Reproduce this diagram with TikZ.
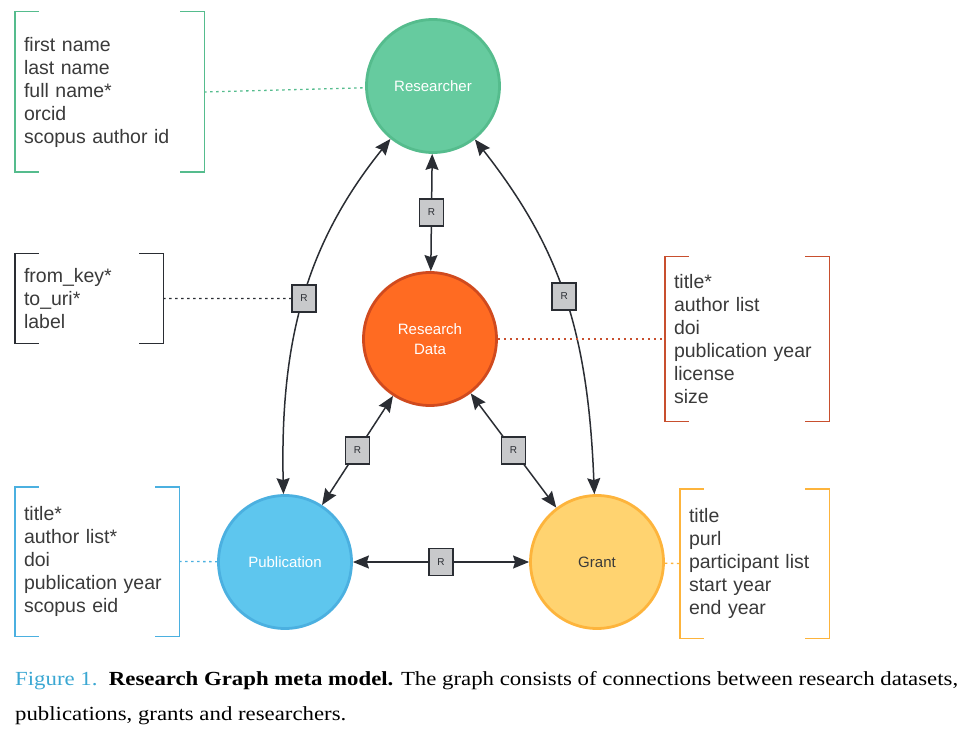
\documentclass[tikz,border=0pt]{standalone}
\usepackage{fontspec}
\setmainfont{Liberation Serif}
\setsansfont{Liberation Sans}
\usetikzlibrary{arrows.meta}
\definecolor{resfill}{HTML}{66CB9F}
\definecolor{resline}{HTML}{55BC8D}
\definecolor{datafill}{HTML}{FF6B22}
\definecolor{dataline}{HTML}{D04A1E}
\definecolor{databrk}{HTML}{C84F2E}
\definecolor{pubfill}{HTML}{5EC6EE}
\definecolor{publine}{HTML}{4BB0E0}
\definecolor{grantfill}{HTML}{FFD370}
\definecolor{grantline}{HTML}{FDB43C}
\definecolor{linkcol}{HTML}{2A2D33}
\definecolor{relfill}{HTML}{C8C9CB}
\definecolor{attrtext}{HTML}{3A3A3A}
\definecolor{figblue}{HTML}{3AA7D2}
\begin{document}
\begin{tikzpicture}[x=1pt,y=-1pt,
	>={Stealth[length=16pt,width=13pt,inset=2pt]},
	entity/.style={circle,minimum size=133pt,line width=2.8pt,align=center,
		text=white,font=\sffamily\fontsize{15}{20}\selectfont},
	rel/.style={rectangle,draw=linkcol,fill=relfill,line width=1.5pt,inner sep=0pt,
		minimum width=24pt,minimum height=27pt,text=linkcol,font=\sffamily\fontsize{10}{12}\selectfont},
	link/.style={<->,draw=linkcol,line width=1.5pt},
	attr/.style={inner xsep=9pt,inner ysep=0pt,align=left,text=attrtext,
		font=\sffamily\fontsize{19.5}{23}\selectfont},
	note/.style={line width=1.3pt,dash pattern=on 2.5pt off 3.5pt}]
		\useasboundingbox (0,0) rectangle (970,738);
		% Các thực thể
		\node[entity,fill=resfill,draw=resline] (res) at (433,86) {Researcher};
		\node[entity,fill=datafill,draw=dataline] (data) at (430,339) {Research\\Data};
		\node[entity,fill=pubfill,draw=publine] (pub) at (285,562) {Publication};
		\node[entity,fill=grantfill,draw=grantline,text=attrtext] (grant) at (597,562) {Grant};
		% Các thuộc tính
		\node[attr,text width=171pt,minimum height=160pt] (resattr) at (109.5,92) {first name\\last name\\full name*\\orcid\\scopus author id};
		\node[attr,text width=130pt,minimum height=89pt] (relattr) at (89,298.5) {from\_key*\\to\_uri*\\label};
		\node[attr,text width=146pt,minimum height=164pt] (dataattr) at (747,339) {title*\\author list\\doi\\publication year\\license\\size};
		\node[attr,text width=146pt,minimum height=149pt] (pubattr) at (97,561.5) {title*\\author list*\\doi\\publication year\\scopus eid};
		\node[attr,text width=131pt,minimum height=149pt] (grantattr) at (754.5,563.5) {title\\purl\\participant list\\start year\\end year};
		\foreach \n/\c in {resattr/resline,relattr/linkcol,dataattr/databrk,pubattr/publine,grantattr/grantline}{
			\draw[\c,line width=1.4pt] ([xshift=24pt]\n.north west) -| (\n.south west) -- +(24,0);
			\draw[\c,line width=1.4pt] ([xshift=-24pt]\n.north east) -| (\n.south east) -- +(-24,0);
		}
		% Các quan hệ
		\draw[link] (res) -- node[rel] (r1) {R} (data);
		\draw[link] (res) .. controls (306,244) and (280,341) .. (pub) node[rel,pos=0.5] (r2) {R};
		\draw[link] (res) .. controls (560,248) and (588,331) .. (grant) node[rel,pos=0.5] (r3) {R};
		\draw[link] (data) -- node[rel] (r4) {R} (pub);
		\draw[link] (data) -- node[rel] (r5) {R} (grant);
		\draw[link] (pub) -- node[rel] (r6) {R} (grant);
		\draw[note,resline] (resattr.east) -- (res);
		\draw[note,linkcol] (relattr.east) -- (r2);
		\draw[note,databrk] (data) -- (dataattr.west);
		\draw[note,publine] (pubattr.east) -- (pub);
		\draw[note,grantline] (grant) -- (grantattr.west);
		\node[anchor=north west,inner sep=0pt,align=left,font=\addfontfeature{FakeStretch=1.14}\fontsize{20}{35}\selectfont] (caption) at (15,671)
			{\textcolor{figblue}{Figure 1.}\ \ \textbf{Research Graph meta model.} The graph consists of connections between research datasets,\\publications, grants and researchers.};
\end{tikzpicture}
\end{document}
